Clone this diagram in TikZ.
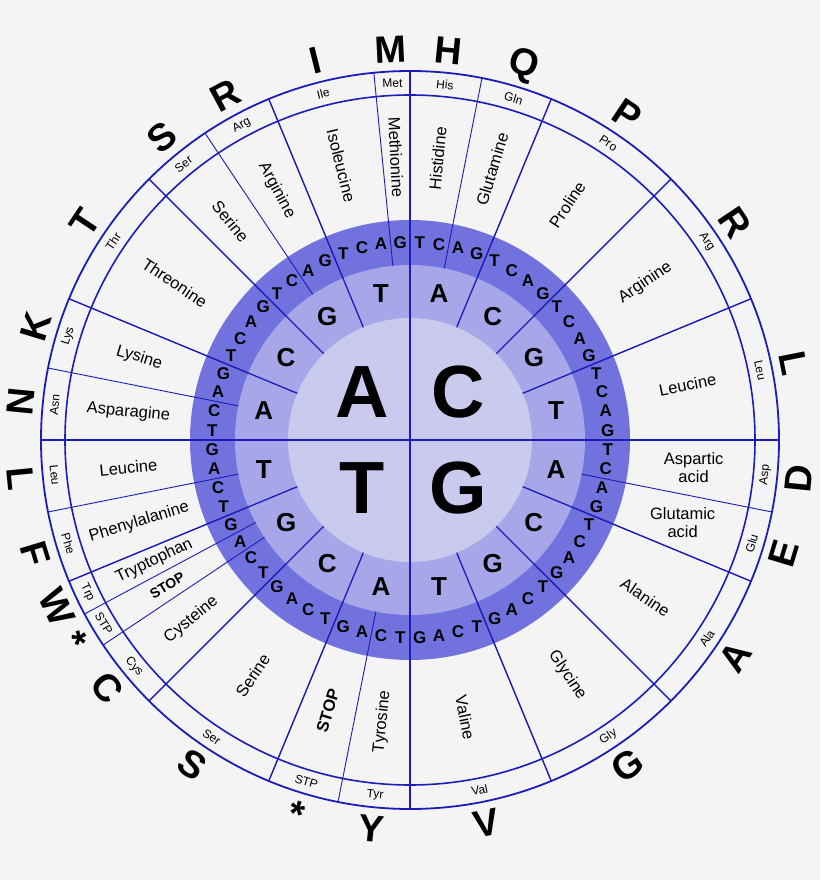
\documentclass[tikz,border=0pt]{standalone}
\usepackage{fontspec}
\setmainfont{Liberation Sans}
\newcommand\secb[1]{\ifcase#1 A\or C\or G\or T\fi}
\newcommand\thib[1]{\ifcase#1 T\or C\or A\or G\fi}
\begin{document}
\begin{tikzpicture}[x=1pt,y=1pt,
  aaname/.style={font=\fontsize{16.5}{17.5}\selectfont,align=center,inner sep=0pt},
  abbr/.style={font=\fontsize{12}{13}\selectfont,inner sep=0pt},
  big/.style={font=\bfseries\fontsize{38}{38}\selectfont,inner sep=0pt},
  third/.style={font=\bfseries\fontsize{17}{17}\selectfont,inner sep=0pt},
  second/.style={font=\bfseries\fontsize{26}{26}\selectfont,inner sep=0pt},
  first/.style={font=\bfseries\fontsize{74}{74}\selectfont,inner sep=0pt}]
\definecolor{bg}{HTML}{F4F4F4}
\definecolor{ringA}{HTML}{7272DE}
\definecolor{ringB}{HTML}{A6A6E8}
\definecolor{ringC}{HTML}{CACAEE}
\definecolor{ln}{HTML}{1C1CB8}
\fill[bg] (-410,-440) rectangle (410,440);
\useasboundingbox (-410,-440) rectangle (410,440);
\fill[ringA] (0,0) circle (220);
\fill[ringB] (0,0) circle (175);
\fill[ringC] (0,0) circle (122);
% amino acid boundaries
\foreach \k in {2,4,8,10,12,15,16,18,20,24,28,32,34,36,40,44,48,50,52,56,58,59,60,62}{
  \draw[ln,line width=0.9pt] (180-\k*5.625:175) -- (180-\k*5.625:369);
}
% second-base boundaries
\foreach \j in {1,2,3,5,6,7,9,10,11,13,14,15}{
  \draw[ln,line width=1.3pt] (180-\j*22.5:122) -- (180-\j*22.5:369);
}
\draw[ln,line width=2pt] (-369,0) -- (369,0);
\draw[ln,line width=2pt] (0,-369) -- (0,369);
\draw[ln,line width=1.6pt] (0,0) circle (345);
\draw[ln,line width=1.8pt] (0,0) circle (369);
% first bases
\node[first] (fA) at (135:68) {A};
\node[first] (fC) at (45:68) {C};
\node[first] (fG) at (-45:68) {G};
\node[first] (fT) at (-135:68) {T};
% second bases
\foreach \j in {0,...,15}{
  \pgfmathtruncatemacro\i{mod(\j,4)}
  \node[second] (s\j) at (180-\j*22.5-11.25:149) {\secb{\i}};
}
% third bases
\foreach \k in {0,...,63}{
  \pgfmathtruncatemacro\i{mod(\k,4)}
  \node[third] (t\k) at (180-\k*5.625-2.8125:198) {\thib{\i}};
}
% amino acids
\foreach \s/\n/\nm/\ab/\lt/\id in {
 0/2/Asparagine/Asn/N/1, 2/2/Lysine/Lys/K/2, 4/4/Threonine/Thr/T/3,
 8/2/Serine/Ser/S/4, 10/2/Arginine/Arg/R/5, 12/3/Isoleucine/Ile/I/6,
 15/1/Methionine/Met/M/7, 16/2/Histidine/His/H/8, 18/2/Glutamine/Gln/Q/9,
 20/4/Proline/Pro/P/10, 24/4/Arginine/Arg/R/11, 28/4/Leucine/Leu/L/12,
 36/4/Alanine/Ala/A/13, 40/4/Glycine/Gly/G/14,
 44/4/Valine/Val/V/15, 48/2/Tyrosine/Tyr/Y/16, 50/2/{\bfseries STOP}/STP/*/17,
 52/4/Serine/Ser/S/18, 56/2/Cysteine/Cys/C/19, 58/1/{\bfseries\fontsize{14}{14}\selectfont STOP}/STP/*/20,
 59/1/Tryptophan/Trp/W/21, 60/2/Phenylalanine/Phe/F/22, 62/2/Leucine/Leu/L/23,
 32/2/{}/Asp/D/24, 34/2/{}/Glu/E/25}{
  \pgfmathsetmacro\m{180-(\s+\n/2)*5.625}
  \pgfmathsetmacro\rot{cos(\m)>=0 ? \m : (\m>0 ? \m-180 : \m+180)}
  \pgfmathsetmacro\trot{\m>0 ? \m-90 : \m+90}
  \node[aaname,rotate=\rot] (n\id) at (\m:283) {\nm};
  \node[abbr,rotate=\trot] (b\id) at (\m:357) {\ab};
  \node[big,rotate=\trot] (l\id) at (\m:391) {\lt};
}
\node[aaname] (asp) at (-5.6:285) {Aspartic\\acid};
\node[aaname] (glu) at (-16.9:285) {Glutamic\\acid};
\end{tikzpicture}
\end{document}
